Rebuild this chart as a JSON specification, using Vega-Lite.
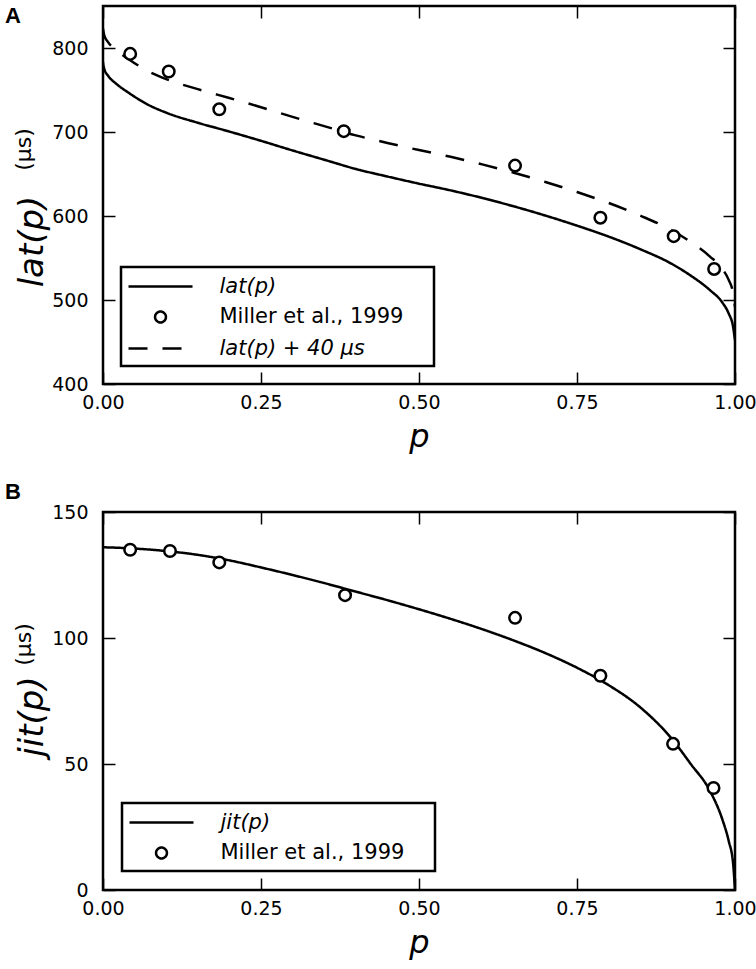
{
  "$schema": "https://vega.github.io/schema/vega-lite/v6.json",
  "padding": {"left": 3, "top": 4, "right": 5, "bottom": 5},
  "bounds": "flush",
  "spacing": 128,
  "datasets": {
    "latLine": [
      {"p": 0, "v": 783, "series": "lat(p)"},
      {"p": 0.002, "v": 775, "series": "lat(p)"},
      {"p": 0.008, "v": 767, "series": "lat(p)"},
      {"p": 0.02, "v": 758, "series": "lat(p)"},
      {"p": 0.04, "v": 747, "series": "lat(p)"},
      {"p": 0.07, "v": 733, "series": "lat(p)"},
      {"p": 0.1, "v": 723, "series": "lat(p)"},
      {"p": 0.15, "v": 711, "series": "lat(p)"},
      {"p": 0.2, "v": 700.5, "series": "lat(p)"},
      {"p": 0.25, "v": 689.5, "series": "lat(p)"},
      {"p": 0.3, "v": 678, "series": "lat(p)"},
      {"p": 0.35, "v": 667, "series": "lat(p)"},
      {"p": 0.4, "v": 656, "series": "lat(p)"},
      {"p": 0.45, "v": 647, "series": "lat(p)"},
      {"p": 0.5, "v": 638.5, "series": "lat(p)"},
      {"p": 0.55, "v": 630.5, "series": "lat(p)"},
      {"p": 0.6, "v": 621.5, "series": "lat(p)"},
      {"p": 0.65, "v": 611.5, "series": "lat(p)"},
      {"p": 0.7, "v": 600.5, "series": "lat(p)"},
      {"p": 0.75, "v": 588.5, "series": "lat(p)"},
      {"p": 0.8, "v": 575.5, "series": "lat(p)"},
      {"p": 0.85, "v": 560.5, "series": "lat(p)"},
      {"p": 0.9, "v": 543, "series": "lat(p)"},
      {"p": 0.93, "v": 529, "series": "lat(p)"},
      {"p": 0.96, "v": 512, "series": "lat(p)"},
      {"p": 0.98, "v": 497, "series": "lat(p)"},
      {"p": 0.99, "v": 484, "series": "lat(p)"},
      {"p": 0.997, "v": 468, "series": "lat(p)"},
      {"p": 1.0, "v": 452, "series": "lat(p)"},
      {"p": 0, "v": 823, "series": "lat(p) + 40 μs"},
      {"p": 0.002, "v": 815, "series": "lat(p) + 40 μs"},
      {"p": 0.008, "v": 807, "series": "lat(p) + 40 μs"},
      {"p": 0.02, "v": 798, "series": "lat(p) + 40 μs"},
      {"p": 0.04, "v": 787, "series": "lat(p) + 40 μs"},
      {"p": 0.07, "v": 773, "series": "lat(p) + 40 μs"},
      {"p": 0.1, "v": 763, "series": "lat(p) + 40 μs"},
      {"p": 0.15, "v": 751, "series": "lat(p) + 40 μs"},
      {"p": 0.2, "v": 740.5, "series": "lat(p) + 40 μs"},
      {"p": 0.25, "v": 729.5, "series": "lat(p) + 40 μs"},
      {"p": 0.3, "v": 718, "series": "lat(p) + 40 μs"},
      {"p": 0.35, "v": 707, "series": "lat(p) + 40 μs"},
      {"p": 0.4, "v": 696, "series": "lat(p) + 40 μs"},
      {"p": 0.45, "v": 687, "series": "lat(p) + 40 μs"},
      {"p": 0.5, "v": 678.5, "series": "lat(p) + 40 μs"},
      {"p": 0.55, "v": 670.5, "series": "lat(p) + 40 μs"},
      {"p": 0.6, "v": 661.5, "series": "lat(p) + 40 μs"},
      {"p": 0.65, "v": 651.5, "series": "lat(p) + 40 μs"},
      {"p": 0.7, "v": 640.5, "series": "lat(p) + 40 μs"},
      {"p": 0.75, "v": 628.5, "series": "lat(p) + 40 μs"},
      {"p": 0.8, "v": 615.5, "series": "lat(p) + 40 μs"},
      {"p": 0.85, "v": 600.5, "series": "lat(p) + 40 μs"},
      {"p": 0.9, "v": 583, "series": "lat(p) + 40 μs"},
      {"p": 0.93, "v": 569, "series": "lat(p) + 40 μs"},
      {"p": 0.96, "v": 552, "series": "lat(p) + 40 μs"},
      {"p": 0.98, "v": 537, "series": "lat(p) + 40 μs"},
      {"p": 0.99, "v": 524, "series": "lat(p) + 40 μs"},
      {"p": 0.997, "v": 508, "series": "lat(p) + 40 μs"},
      {"p": 1.0, "v": 492, "series": "lat(p) + 40 μs"}
    ],
    "latPoints": [
      {"p": 0.043, "v": 793},
      {"p": 0.104, "v": 772},
      {"p": 0.184, "v": 727},
      {"p": 0.381, "v": 701},
      {"p": 0.652, "v": 660},
      {"p": 0.787, "v": 598},
      {"p": 0.903, "v": 576},
      {"p": 0.967, "v": 537}
    ],
    "jitLine": [
      {"p": 0, "v": 136, "series": "jit(p)"},
      {"p": 0.05, "v": 135.5, "series": "jit(p)"},
      {"p": 0.1, "v": 134.5, "series": "jit(p)"},
      {"p": 0.15, "v": 133, "series": "jit(p)"},
      {"p": 0.2, "v": 130.8, "series": "jit(p)"},
      {"p": 0.25, "v": 128, "series": "jit(p)"},
      {"p": 0.3, "v": 125, "series": "jit(p)"},
      {"p": 0.35, "v": 121.8, "series": "jit(p)"},
      {"p": 0.4, "v": 118.4, "series": "jit(p)"},
      {"p": 0.45, "v": 115, "series": "jit(p)"},
      {"p": 0.5, "v": 111.4, "series": "jit(p)"},
      {"p": 0.55, "v": 107.6, "series": "jit(p)"},
      {"p": 0.6, "v": 103.5, "series": "jit(p)"},
      {"p": 0.65, "v": 99, "series": "jit(p)"},
      {"p": 0.7, "v": 94, "series": "jit(p)"},
      {"p": 0.75, "v": 88.2, "series": "jit(p)"},
      {"p": 0.8, "v": 81.3, "series": "jit(p)"},
      {"p": 0.85, "v": 72.5, "series": "jit(p)"},
      {"p": 0.9, "v": 60, "series": "jit(p)"},
      {"p": 0.93, "v": 50, "series": "jit(p)"},
      {"p": 0.96, "v": 39.5, "series": "jit(p)"},
      {"p": 0.98, "v": 28, "series": "jit(p)"},
      {"p": 0.99, "v": 19.5, "series": "jit(p)"},
      {"p": 0.997, "v": 10.5, "series": "jit(p)"},
      {"p": 1.0, "v": 0, "series": "jit(p)"}
    ],
    "jitPoints": [
      {"p": 0.043, "v": 135},
      {"p": 0.106, "v": 134.5},
      {"p": 0.184, "v": 130},
      {"p": 0.383, "v": 117},
      {"p": 0.652, "v": 108},
      {"p": 0.787, "v": 85},
      {"p": 0.902, "v": 58},
      {"p": 0.966, "v": 40.5}
    ]
  },
  "vconcat": [
    {
      "width": 632,
      "height": 378,
      "title": {"text": "A", "anchor": "start", "frame": "group", "dx": -98, "offset": -40, "baseline": "alphabetic", "font": "Liberation Sans", "fontSize": 22, "fontWeight": "bold", "color": "black"},
      "layer": [
        {
          "data": {"name": "latLine"},
          "mark": {"type": "line", "color": "black", "strokeWidth": 2.5, "clip": true, "interpolate": "monotone"},
          "encoding": {
            "x": {"field": "p", "type": "quantitative", "scale": {"domain": [0, 1], "nice": false},
              "axis": {"orient": "bottom", "values": [0, 0.25, 0.5, 0.75, 1], "format": ".2f", "title": "p", "titleFontStyle": "italic", "titleFontSize": 32, "titleBaseline": "alphabetic", "titleY": 62}},
            "y": {"field": "v", "type": "quantitative", "scale": {"domain": [400, 850], "nice": false, "zero": false},
              "axis": {"orient": "left", "values": [400, 500, 600, 700, 800], "title": "lat(p)", "titleFontStyle": "italic", "titleFontSize": 34, "titleAngle": -90, "titleAlign": "center", "titleBaseline": "alphabetic", "titleX": -61, "titleY": 235}},
            "strokeDash": {"field": "series", "type": "nominal",
              "scale": {"domain": ["lat(p)", "Miller et al., 1999", "lat(p) + 40 μs"], "range": [[1, 0], [1, 0], [19, 15]]},
              "legend": {"orient": "bottom-left", "offset": 18, "title": null,
                "encode": {
                  "symbols": {"update": {
                    "y": {"value": 12},
                    "shape": {"signal": "datum.value === 'Miller et al., 1999' ? 'M-0.17,0A0.17,0.17 0 1,0 0.17,0A0.17,0.17 0 1,0 -0.17,0ZM8.15,0L8.15,0' : 'M-1,0L1,0M8.15,0L8.15,0'"},
                    "strokeDash": {"signal": "datum.value === 'lat(p) + 40 μs' ? [19,15] : [1,0]"},
                    "fill": {"value": "white"}, "stroke": {"value": "black"}, "opacity": {"value": 1}}},
                  "labels": {"update": {
                    "y": {"value": 12},
                    "fontStyle": {"signal": "datum.value === 'Miller et al., 1999' ? 'normal' : 'italic'"}}}
                }}}
          }
        },
        {
          "data": {"name": "latPoints"},
          "mark": {"type": "point", "shape": "circle", "size": 133, "filled": true, "fill": "white", "stroke": "black", "strokeWidth": 2.5, "opacity": 1},
          "encoding": {
            "x": {"field": "p", "type": "quantitative", "scale": {"domain": [0, 1], "nice": false},
              "axis": {"orient": "top", "values": [0, 0.25, 0.5, 0.75, 1], "labels": false, "title": null}},
            "y": {"field": "v", "type": "quantitative", "scale": {"domain": [400, 850], "nice": false, "zero": false},
              "axis": {"orient": "right", "values": [400, 500, 600, 700, 800], "labels": false, "title": "(μs)", "titleFontSize": 22, "titleAngle": -90, "titleAlign": "center", "titleBaseline": "alphabetic", "titleX": -705, "titleY": 143}}
          }
        }
      ],
      "resolve": {"axis": {"x": "independent", "y": "independent"}}
    },
    {
      "width": 632,
      "height": 378,
      "title": {"text": "B", "anchor": "start", "frame": "group", "dx": -98, "offset": -18, "baseline": "alphabetic", "font": "Liberation Sans", "fontSize": 22, "fontWeight": "bold", "color": "black"},
      "layer": [
        {
          "data": {"name": "jitLine"},
          "mark": {"type": "line", "color": "black", "strokeWidth": 2.5, "clip": true, "interpolate": "monotone"},
          "encoding": {
            "x": {"field": "p", "type": "quantitative", "scale": {"domain": [0, 1], "nice": false},
              "axis": {"orient": "bottom", "values": [0, 0.25, 0.5, 0.75, 1], "format": ".2f", "title": "p", "titleFontStyle": "italic", "titleFontSize": 32, "titleBaseline": "alphabetic", "titleY": 62}},
            "y": {"field": "v", "type": "quantitative", "scale": {"domain": [0, 150], "nice": false},
              "axis": {"orient": "left", "values": [0, 50, 100, 150], "title": "jit(p)", "titleFontStyle": "italic", "titleFontSize": 34, "titleAngle": -90, "titleAlign": "center", "titleBaseline": "alphabetic", "titleX": -61, "titleY": 204}},
            "strokeDash": {"field": "series", "type": "nominal",
              "scale": {"domain": ["jit(p)", "Miller et al., 1999"], "range": [[1, 0], [1, 0]]},
              "legend": {"orient": "bottom-left", "offset": 19, "title": null,
                "encode": {
                  "symbols": {"update": {
                    "y": {"value": 12},
                    "shape": {"signal": "datum.value === 'Miller et al., 1999' ? 'M-0.17,0A0.17,0.17 0 1,0 0.17,0A0.17,0.17 0 1,0 -0.17,0ZM8.15,0L8.15,0' : 'M-1,0L1,0M8.15,0L8.15,0'"},
                    "strokeDash": {"value": [1, 0]},
                    "fill": {"value": "white"}, "stroke": {"value": "black"}, "opacity": {"value": 1}}},
                  "labels": {"update": {
                    "y": {"value": 12},
                    "fontStyle": {"signal": "datum.value === 'Miller et al., 1999' ? 'normal' : 'italic'"}}}
                }}}
          }
        },
        {
          "data": {"name": "jitPoints"},
          "mark": {"type": "point", "shape": "circle", "size": 133, "filled": true, "fill": "white", "stroke": "black", "strokeWidth": 2.5, "opacity": 1},
          "encoding": {
            "x": {"field": "p", "type": "quantitative", "scale": {"domain": [0, 1], "nice": false},
              "axis": {"orient": "top", "values": [0, 0.25, 0.5, 0.75, 1], "labels": false, "title": null}},
            "y": {"field": "v", "type": "quantitative", "scale": {"domain": [0, 150], "nice": false},
              "axis": {"orient": "right", "values": [0, 50, 100, 150], "labels": false, "title": "(μs)", "titleFontSize": 22, "titleAngle": -90, "titleAlign": "center", "titleBaseline": "alphabetic", "titleX": -705, "titleY": 132}}
          }
        }
      ],
      "resolve": {"axis": {"x": "independent", "y": "independent"}}
    }
  ],
  "resolve": {
    "scale": {"x": "independent", "y": "independent", "strokeDash": "independent"},
    "axis": {"x": "independent", "y": "independent"},
    "legend": {"strokeDash": "independent"}
  },
  "config": {
    "font": "DejaVu Sans",
    "background": "white",
    "view": {"stroke": "black", "strokeWidth": 2.5},
    "axis": {
      "grid": false, "domain": false,
      "tickColor": "black", "tickWidth": 1.5, "tickSize": -12,
      "labelFont": "DejaVu Sans", "labelFontSize": 19, "labelColor": "black",
      "labelFlush": false, "labelOverlap": false,
      "titleFont": "DejaVu Sans", "titleColor": "black", "titleFontWeight": "normal"
    },
    "axisLeft": {"labelPadding": 27},
    "axisBottom": {"labelPadding": 21},
    "legend": {
      "strokeColor": "black", "strokeWidth": 2.5, "fillColor": "white",
      "padding": 7.5, "symbolSize": 4096, "symbolStrokeWidth": 2.5, "symbolStrokeColor": "black",
      "symbolFillColor": "white", "symbolType": "circle",
      "labelFont": "DejaVu Sans", "labelFontSize": 21, "labelColor": "black",
      "rowPadding": 8.5, "symbolOffset": -1.5, "labelOffset": 25.5, "labelLimit": 400
    }
  }
}
